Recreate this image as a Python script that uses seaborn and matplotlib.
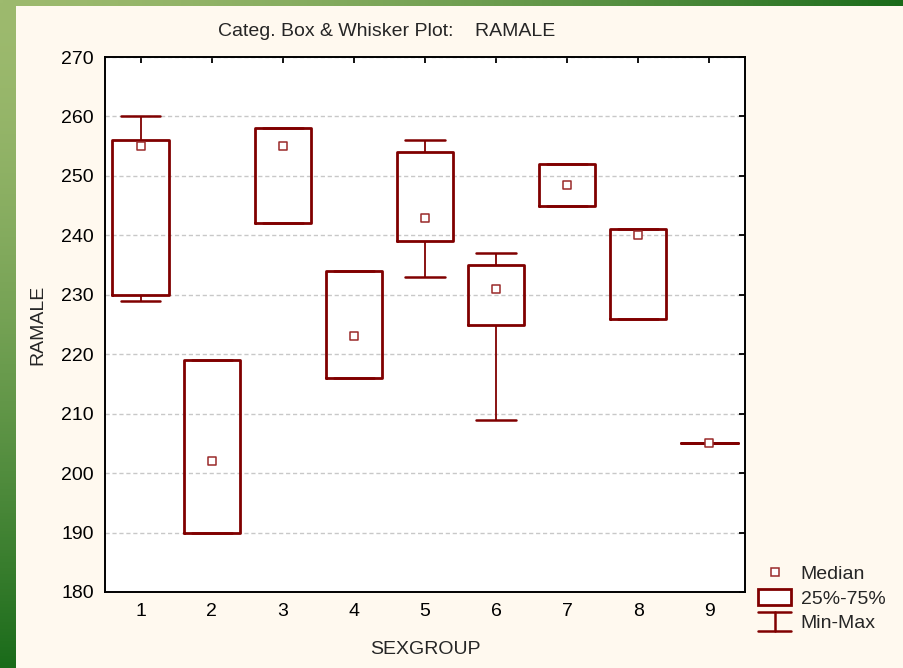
import numpy as np
import pandas as pd
import matplotlib
matplotlib.use("Agg")
import matplotlib.pyplot as plt
import seaborn as sns
from matplotlib.patches import Rectangle, Patch
from matplotlib.lines import Line2D
from matplotlib.legend_handler import HandlerBase

# ---- data ----
groups = ["1", "2", "3", "4", "5", "6", "7", "8", "9"]
mins = [229, 190, 242, 216, 233, 209, 245, 226, 205]
q1s = [230, 190, 242, 216, 239, 225, 245, 226, 205]
medians = [255, 202, 255, 223, 243, 231, 248.5, 240, 205]
q3s = [256, 219, 258, 234, 254, 235, 252, 241, 205]
maxs = [260, 219, 258, 234, 256, 237, 252, 241, 205]
y_ticks = [180, 190, 200, 210, 220, 230, 240, 250, 260, 270]

title = "Categ. Box & Whisker Plot:    RAMALE"
x_label = "SEXGROUP"
y_label = "RAMALE"
legend_labels = ["Median", "25%-75%", "Min-Max"]

# five-number summary per group -> long table (quartiles reproduce exactly)
rows = []
for g, a, b, c, d, e in zip(groups, mins, q1s, medians, q3s, maxs):
    for v in (a, b, c, d, e):
        rows.append({"SEXGROUP": g, "RAMALE": v})
df = pd.DataFrame(rows)
med_df = pd.DataFrame({"SEXGROUP": groups, "RAMALE": medians})

sns.set_style("white")
plt.rcParams["font.family"] = ["Liberation Sans", "DejaVu Sans"]
FS = 14

W, H = 904, 668
fig = plt.figure(figsize=(W / 100, H / 100), dpi=100)

# ---- slide background: green gradient with cream panel ----
bg = fig.add_axes([0, 0, 1, 1], zorder=-10)
xx, yy = np.meshgrid(np.linspace(0, 1, 300), np.linspace(0, 1, 220))
t = np.clip(np.maximum(xx, yy), 0, 1) ** 1.6
light = np.array([157, 186, 110]) / 255
dark = np.array([26, 107, 26]) / 255
img = light[None, None, :] * (1 - t[..., None]) + dark[None, None, :] * t[..., None]
bg.imshow(img, aspect="auto", extent=[0, 1, 1, 0], origin="upper")
bg.set_xlim(0, 1)
bg.set_ylim(1, 0)
bg.add_patch(Rectangle((16 / W, 6 / H), 1, 1, facecolor="#FFF9EF", edgecolor="none"))
bg.axis("off")

# ---- main axes ----
ax = fig.add_axes([105 / W, (H - 592) / H, 640 / W, 535 / H])
ax.set_facecolor("white")
red = "#800000"

sns.boxplot(
    data=df, x="SEXGROUP", y="RAMALE", order=groups, ax=ax,
    whis=(0, 100), width=0.79, fill=False, color=red, showfliers=False,
    boxprops=dict(linewidth=2.0, color=red),
    whiskerprops=dict(linewidth=1.3, color=red),
    capprops=dict(linewidth=1.8, color=red),
    medianprops=dict(visible=False),
    capwidths=0.56,
)
sns.stripplot(
    data=med_df, x="SEXGROUP", y="RAMALE", order=groups, ax=ax,
    jitter=False, marker="s", size=6.3, color="white",
    edgecolor="#9a2a2a", linewidth=1.1, zorder=5,
)

ax.set_xlim(-0.5, len(groups) - 0.5)
ax.set_ylim(180, 270)
ax.set_yticks(y_ticks)
ax.set_axisbelow(True)
ax.yaxis.grid(True, linestyle=(0, (3, 2)), color="#c8c8c8", linewidth=1.0)
ax.xaxis.grid(False)
for s in ax.spines.values():
    s.set_visible(True)
    s.set_color("black")
    s.set_linewidth(1.4)
ax.tick_params(direction="in", top=True, right=True, length=4, width=1.3,
               labelsize=FS, pad=8, colors="black")

ax.set_xlabel(x_label, fontsize=FS, va="center")
ax.xaxis.set_label_coords(0.5, (592 - 649) / 535)
ax.set_ylabel(y_label, fontsize=FS, va="center")
ax.yaxis.set_label_coords((38 - 105) / 640, 0.5)

fig.text(387 / W, 1 - 32 / H, title, ha="center", va="center", fontsize=FS)

# ---- legend ----
class HandlerIBeam(HandlerBase):
    def create_artists(self, legend, orig_handle, xdescent, ydescent,
                       width, height, fontsize, trans):
        x0, y0 = -xdescent, -ydescent
        top, bot = y0 + height * 1.05, y0 - height * 0.1
        arts = [
            Line2D([x0, x0 + width], [top, top]),
            Line2D([x0 + width / 2, x0 + width / 2], [bot, top]),
            Line2D([x0, x0 + width], [bot, bot]),
        ]
        for a in arts:
            a.set_color(red)
            a.set_linewidth(1.8)
            a.set_transform(trans)
        return arts

h_med = Line2D([], [], marker="s", linestyle="none", markersize=6.3,
               markerfacecolor="white", markeredgecolor="#9a2a2a", markeredgewidth=1.1)
h_box = Patch(facecolor="white", edgecolor=red, linewidth=2.0)
h_rng = Line2D([], [], color=red)
fig.legend([h_med, h_box, h_rng], legend_labels,
           handler_map={h_rng: HandlerIBeam()},
           loc="upper left", bbox_to_anchor=(758 / W, (H - 564) / H),
           frameon=False, fontsize=FS, handlelength=1.7, handleheight=0.95,
           handletextpad=0.5, labelspacing=0.28, borderpad=0, borderaxespad=0)

fig.savefig("out.png", dpi=100)
